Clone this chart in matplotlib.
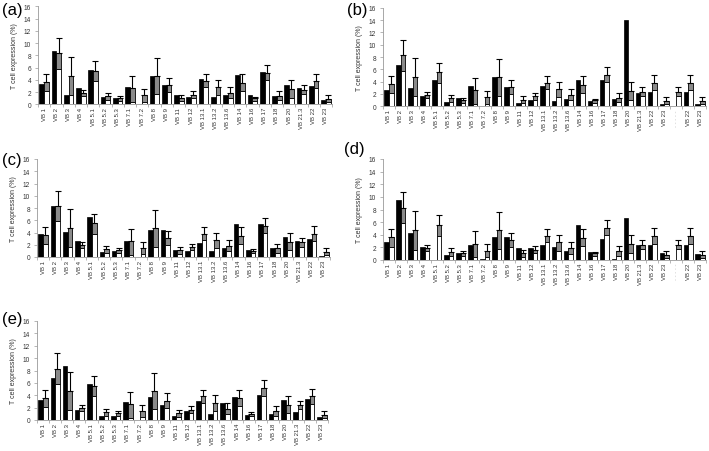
import numpy as np
import matplotlib.pyplot as plt

plt.rcParams['font.family'] = ['Liberation Sans', 'DejaVu Sans']

# categories (panels a, c, e)
cats = ["VB 1", "VB 2", "VB 3", "VB 4", "VB 5.1", "VB 5.2", "VB 5.3", "VB 7.1",
        "VB 7.2", "VB 8", "VB 9", "VB 11", "VB 12", "VB 13.1", "VB 13.2", "VB 13.6",
        "VB 14", "VB 16", "VB 17", "VB 18", "VB 20", "VB 21.3", "VB 22", "VB 23"]
# panels b and d carry three extra columns (the first one has a smudged label)
cats_long = cats + ["- - - - -", "VB 22", "VB 23"]

# healthy control reference: lower bound, mean, upper whisker
ref_low = [2.1, 5.8, 1.6, 1.4, 3.8, 0.7, 0.6, 0.4, 0.45, 1.7, 2.0, 0.55, 1.1,
           2.8, 1.5, 1.0, 2.2, 0.6, 3.9, 0.7, 1.1, 1.7, 2.6, 0.3]
ref_mid = [3.6, 8.3, 4.7, 1.9, 5.5, 1.3, 1.1, 2.6, 1.45, 4.7, 3.15, 1.1, 1.6,
           3.8, 2.8, 1.85, 3.5, 1.05, 5.1, 1.4, 2.5, 2.4, 3.8, 0.8]
ref_high = [4.9, 10.8, 7.8, 2.4, 7.05, 1.85, 1.4, 4.6, 2.5, 7.6, 4.3, 1.6, 2.2,
            4.9, 4.0, 2.8, 4.9, 1.25, 6.4, 2.2, 3.9, 3.1, 5.0, 1.5]

# patient values
pat_a = [3.3, 8.75, 1.5, 2.6, 5.6, 1.2, 0.95, 2.9, 0.05, 4.6, 3.15, 1.6, 1.2,
         4.1, 1.25, 1.5, 4.8, 1.45, 5.2, 1.35, 3.2, 2.6, 3.0, 0.7]
pat_b = [2.6, 6.65, 3.0, 1.7, 4.3, 0.65, 1.4, 3.35, 0.05, 4.8, 3.1, 0.55, 1.1,
         3.35, 0.9, 1.2, 4.2, 0.8, 4.3, 1.25, 14.0, 2.2, 2.25, 0.4, 0.0, 2.3, 0.4]
pat_c = [3.8, 8.25, 4.1, 2.55, 6.5, 0.85, 1.0, 2.55, 0.0, 4.35, 4.45, 1.2, 1.05,
         2.3, 0.95, 1.4, 5.35, 1.2, 5.45, 1.5, 3.2, 2.6, 2.95, 0.2]
pat_d = [2.9, 9.55, 4.2, 2.0, 0.05, 0.85, 1.05, 2.4, 0.1, 3.7, 3.7, 1.85, 1.95,
         2.4, 2.0, 1.4, 5.6, 1.2, 3.4, 0.1, 6.6, 2.3, 2.4, 1.05, 0.0, 2.4, 1.0]
pat_e = [3.2, 6.8, 8.7, 1.55, 5.75, 0.7, 0.7, 2.95, 0.0, 3.7, 2.4, 0.65, 1.5,
         3.0, 0.9, 2.7, 3.75, 0.85, 4.0, 0.9, 3.2, 1.35, 3.4, 0.55]

W, H = 709, 452
fig = plt.figure(figsize=(W / 100, H / 100), dpi=100)


def rect(x0, x1, ytop, y0):
    return [x0 / W, 1 - y0 / H, (x1 - x0) / W, (y0 - ytop) / H]


def panel(r, labels, patient, tag, tag_xy):
    n = len(labels)
    idx = [cats.index(c) if c in cats else 21 for c in labels]
    low = np.array([ref_low[k] for k in idx])
    mid = np.array([ref_mid[k] for k in idx])
    high = np.array([ref_high[k] for k in idx])
    x = np.arange(n)
    w = 0.38

    ax = fig.add_axes(rect(*r))
    ax.bar(x - w / 2, patient, w, color='black', edgecolor='black', linewidth=0.5)
    ax.bar(x + w / 2, low, w, color='white', edgecolor='black', linewidth=0.6)
    ax.bar(x + w / 2, mid - low, w, bottom=low, color='#8a8a8a',
           edgecolor='black', linewidth=0.6)
    ax.errorbar(x + w / 2, mid, yerr=[np.zeros(n), high - mid], fmt='none',
                ecolor='black', elinewidth=0.8, capsize=2, capthick=0.8)

    ax.set_xlim(-0.5, n - 0.5)
    ax.set_ylim(0, 16)
    ax.set_yticks(range(0, 17, 2))
    ax.set_xticks(x)
    ax.set_xticklabels(labels, rotation=90, fontsize=4.3, color='#333333')
    ax.set_xticks(np.arange(n + 1) - 0.5, minor=True)
    ax.tick_params(axis='x', which='major', length=0, pad=2)
    ax.tick_params(axis='x', which='minor', length=2.5, width=0.5, color='#999999')
    ax.tick_params(axis='y', length=2, width=0.5, color='#999999',
                   labelsize=4.7, labelcolor='#333333', pad=3)
    for s in ['top', 'right']:
        ax.spines[s].set_visible(False)
    for s in ['left', 'bottom']:
        ax.spines[s].set_color('#999999')
        ax.spines[s].set_linewidth(0.6)
    ax.set_ylabel('T cell expression (%)', fontsize=5, color='#333333', labelpad=4)
    if '- - - - -' in labels:
        ax.get_xticklabels()[labels.index('- - - - -')].set_color('#bbbbbb')
    fig.text(tag_xy[0] / W, 1 - tag_xy[1] / H, tag, fontsize=12, va='center', ha='left')
    return ax


panel((38, 332, 7.3, 105.3), cats, pat_a, '(a)', (2, 10))
panel((383, 706, 8.7, 107.3), cats_long, pat_b, '(b)', (347, 10))
panel((37, 330, 160, 258), cats, pat_c, '(c)', (2, 161))
panel((383, 706, 160, 261), cats_long, pat_d, '(d)', (344, 150))
panel((37, 328, 322, 421), cats, pat_e, '(e)', (2, 320))

fig.savefig('out.png', dpi=100)
